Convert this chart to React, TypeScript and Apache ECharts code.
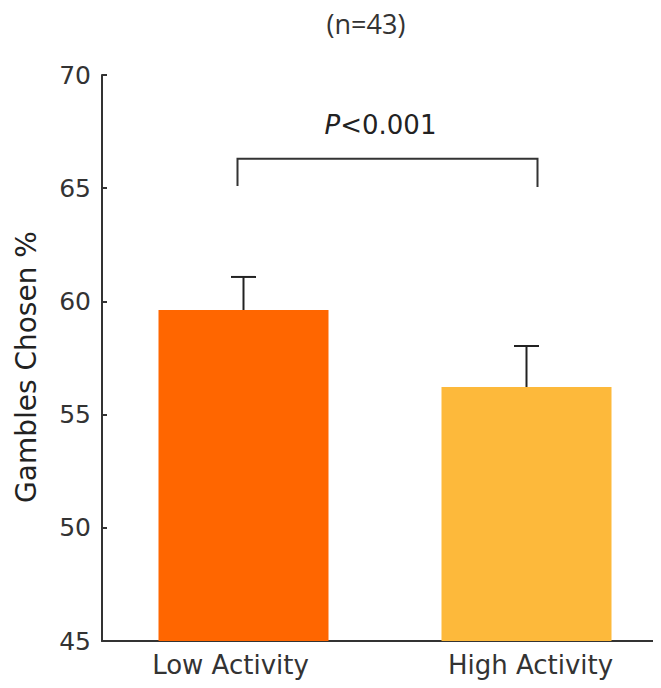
import React, { useEffect, useRef } from "react";
import * as echarts from "echarts";

const categories = ["Low Activity", "High Activity"];
const means = [59.62, 56.22];
const upperErrors = [61.08, 58.03];
const barColors = ["#FF6600", "#FDB93B"];
const yTicks = { min: 45, max: 70, interval: 5 };
const bracket = { top: 66.3, bottom: 65.1, label: "<0.001" };
const titleText = "(n=43)";
const yName = "Gambles Chosen %";

export default function App() {
  const ref = useRef<HTMLDivElement>(null);
  useEffect(() => {
    if (!ref.current) return;
    const chart = echarts.init(ref.current, null, { renderer: "svg" });
    const font = "DejaVu Sans";
    const labelPads = [
      [0, 26, 0, 0],
      [0, 0, 0, 8],
    ];
    chart.setOption({
      animation: false,
      backgroundColor: "#fff",
      textStyle: { fontFamily: font },
      title: {
        text: titleText,
        left: 361,
        textAlign: "center",
        top: 5,
        textStyle: { fontFamily: "Open Sans", fontWeight: "normal", fontSize: 27, color: "#333" },
      },
      grid: { left: 102, width: 566, top: 75, bottom: 47, containLabel: false },
      xAxis: {
        type: "category",
        data: categories.map((c, i) => ({ value: c, textStyle: { padding: labelPads[i] } })),
        axisLine: { lineStyle: { color: "#333", width: 2 } },
        axisTick: { show: false },
        axisLabel: { color: "#333", fontSize: 26, margin: 11, fontFamily: font },
      },
      yAxis: {
        type: "value",
        min: yTicks.min,
        max: yTicks.max,
        interval: yTicks.interval,
        name: yName,
        nameLocation: "middle",
        nameGap: 62,
        nameTextStyle: { color: "#222", fontSize: 28, fontFamily: font, padding: [0, 18, 0, 0] },
        axisLine: { show: true, lineStyle: { color: "#333", width: 2 } },
        axisTick: { show: true, inside: true, length: 5, lineStyle: { color: "#333", width: 2 } },
        axisLabel: { color: "#333", fontSize: 25, margin: 11, fontFamily: font },
        splitLine: { show: false },
      },
      series: [
        {
          type: "bar",
          barWidth: 170,
          data: means.map((v, i) => ({ value: v, itemStyle: { color: barColors[i] } })),
          z: 2,
        },
        {
          type: "custom",
          z: 3,
          data: means.map((v, i) => [i, v, upperErrors[i]]),
          renderItem: (params: any, api: any) => {
            const i = api.value(0);
            const low = api.coord([i, api.value(1)]);
            const high = api.coord([i, api.value(2)]);
            const half = 12.5;
            return {
              type: "group",
              children: [
                {
                  type: "line",
                  shape: { x1: low[0], y1: low[1], x2: high[0], y2: high[1] },
                  style: { stroke: "#222", lineWidth: 2 },
                },
                {
                  type: "line",
                  shape: { x1: high[0] - half, y1: high[1], x2: high[0] + half, y2: high[1] },
                  style: { stroke: "#222", lineWidth: 2 },
                },
              ],
            };
          },
        },
        {
          type: "custom",
          z: 3,
          data: [[0, 1, bracket.top, bracket.bottom]],
          renderItem: (params: any, api: any) => {
            const a = api.coord([api.value(0), api.value(2)]);
            const b = api.coord([api.value(1), api.value(2)]);
            const bot = api.coord([api.value(0), api.value(3)]);
            const x1 = a[0] - 6;
            const x2 = b[0] + 11;
            return {
              type: "group",
              children: [
                {
                  type: "polyline",
                  shape: { points: [[x1, bot[1]], [x1, a[1]], [x2, a[1]], [x2, bot[1] + 1]] },
                  style: { stroke: "#333", lineWidth: 2, fill: null },
                },
                {
                  type: "text",
                  style: {
                    x: (x1 + x2) / 2 - 7,
                    y: a[1] - 34,
                    text: "{i|P}{n|" + bracket.label + "}",
                    align: "center",
                    verticalAlign: "middle",
                    rich: {
                      i: { fontStyle: "italic", fontSize: 26, fill: "#222", fontFamily: font },
                      n: { fontSize: 26, fill: "#222", fontFamily: font },
                    },
                  },
                },
              ],
            };
          },
        },
      ],
    });
    return () => chart.dispose();
  }, []);
  return (
    <div style={{ width: 661, height: 688, margin: -8, overflow: "hidden" }}>
      <div ref={ref} style={{ width: 680, height: 688 }} />
    </div>
  );
}
